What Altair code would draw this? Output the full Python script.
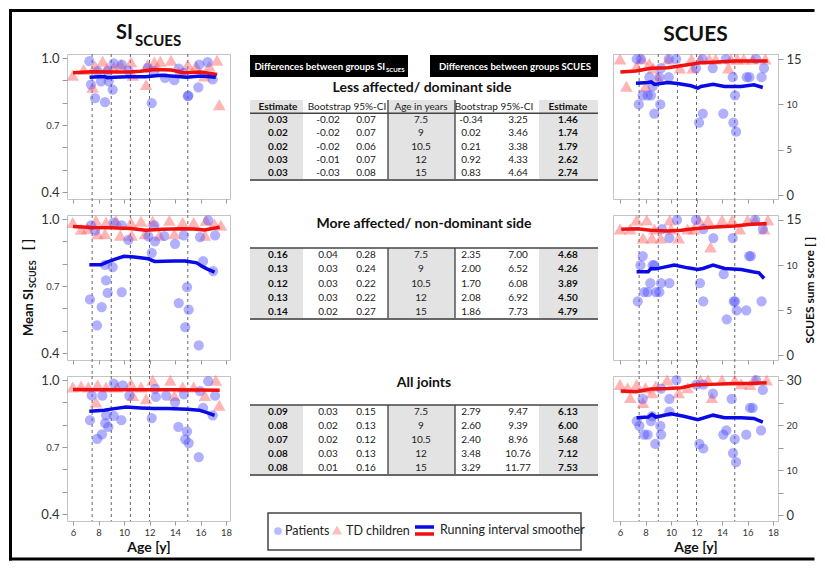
import altair as alt
import pandas as pd

# ---------------- data ----------------
cut_ages = [7.5, 9, 10.5, 12, 15]

# Less affected / dominant side : SI_SCUES
tl_pat_age = [7.28, 7.41, 7.73, 7.94, 8.2, 8.51, 8.72, 8.8, 9.11, 9.19, 9.82, 10.34, 11.86, 12.17, 12.38,
              13.22, 13.95, 14.29, 14.68, 15.0, 15.05, 15.83, 15.91, 16.56, 16.95]
tl_pat_val = [0.986, 0.881, 0.821, 0.941, 0.896, 0.803, 0.941, 0.896, 0.859, 0.976, 0.971, 0.944, 0.956, 0.798, 0.941,
              0.911, 0.901, 0.952, 0.934, 0.829, 0.832, 0.869, 0.971, 0.982, 0.904]
tl_td_age = [5.98, 6.84, 7.54, 7.73, 8.33, 8.67, 9.2, 9.76, 10.55, 10.7, 11.73, 11.86, 12.38, 12.85, 13.69,
             14.3, 15.0, 15.65, 16.3, 16.69, 17.29, 17.47]
tl_td_val = [0.923, 0.949, 0.869, 0.964, 0.986, 0.956, 0.962, 0.971, 0.982, 0.923, 0.881, 0.971, 0.982, 0.986, 0.99,
             0.935, 0.971, 0.964, 0.919, 0.964, 0.99, 0.791]
tl_red_age = [6.0, 7.4, 9.0, 10.3, 11.3, 12.4, 13.7, 14.7, 16.0, 17.3]
tl_red_val = [0.934, 0.938, 0.937, 0.937, 0.941, 0.949, 0.946, 0.934, 0.937, 0.926]
tl_blue_age = [7.3, 8.45, 8.7, 9.2, 10.3, 11.7, 12.9, 13.95, 14.9, 16.0, 17.2]
tl_blue_val = [0.914, 0.917, 0.912, 0.914, 0.916, 0.916, 0.923, 0.918, 0.914, 0.919, 0.914]

# More affected / non-dominant side : SI_SCUES
ml_pat_age = [7.33, 7.41, 7.73, 7.88, 8.25, 8.51, 8.59, 8.72, 9.11, 9.19, 9.82, 9.82, 10.34, 11.91, 12.17,
              12.38, 12.43, 13.16, 14.0, 14.29, 14.68, 14.8, 14.94, 15.07, 15.86, 15.96, 16.2, 16.6, 16.99, 17.14]
ml_pat_val = [0.64, 0.972, 0.949, 0.524, 0.606, 0.795, 0.725, 0.669, 0.785, 0.984, 0.673, 0.972, 0.907, 0.922, 0.849,
              0.972, 0.9, 0.924, 0.889, 0.624, 0.927, 0.516, 0.695, 0.594, 0.434, 0.919, 0.812, 0.994, 0.767, 0.927]
ml_td_age = [5.98, 6.63, 7.15, 7.8, 7.93, 8.59, 8.51, 9.37, 9.71, 10.55, 10.6, 11.33, 11.65, 12.25, 12.77,
             13.55, 13.95, 14.6, 15.46, 16.35, 16.43, 17.08, 17.6]
ml_td_val = [0.984, 0.954, 0.957, 0.994, 0.934, 0.986, 0.934, 0.994, 0.927, 0.984, 0.927, 0.99, 0.934, 0.99, 0.927,
             0.994, 0.934, 0.984, 0.984, 0.927, 0.994, 0.979, 0.972]
ml_red_age = [6.0, 7.5, 9.0, 10.5, 11.7, 13.0, 14.5, 15.5, 16.3, 17.5]
ml_red_val = [0.966, 0.962, 0.961, 0.958, 0.950, 0.954, 0.957, 0.955, 0.951, 0.963]
ml_blue_age = [7.28, 8.2, 8.67, 9.37, 10.0, 10.8, 11.9, 12.4, 13.9, 14.8, 15.7, 16.1, 16.5, 17.1]
ml_blue_val = [0.795, 0.795, 0.807, 0.822, 0.833, 0.830, 0.822, 0.810, 0.812, 0.812, 0.804, 0.789, 0.777, 0.762]

# All joints : SI_SCUES
bl_pat_age = [7.47, 7.33, 7.9, 8.27, 8.3, 8.53, 8.59, 8.77, 9.19, 9.19, 9.79, 9.9, 10.42, 12.17, 12.43,
              12.5, 13.3, 14.0, 14.26, 14.7, 14.8, 14.94, 15.07, 15.86, 15.96, 16.2, 16.6, 16.95, 17.14]
bl_pat_val = [0.931, 0.82, 0.737, 0.757, 0.93, 0.807, 0.842, 0.79, 0.984, 0.84, 0.82, 0.976, 0.93, 0.83, 0.96,
              0.924, 0.93, 0.90, 0.79, 0.936, 0.734, 0.77, 0.718, 0.655, 0.95, 0.875, 0.995, 0.842, 0.93]
bl_td_age = [5.98, 6.63, 7.2, 7.8, 7.93, 8.59, 9.45, 10.55, 10.7, 11.33, 11.73, 12.25, 13.63, 13.95, 14.6,
             15.46, 16.35, 17.2, 17.47]
bl_td_val = [0.969, 0.973, 0.969, 0.902, 0.979, 0.969, 0.969, 0.984, 0.931, 0.969, 0.916, 0.999, 0.999, 0.931, 0.969,
             0.969, 0.931, 0.999, 0.887]
bl_red_age = [6.0, 8.0, 10.0, 12.0, 14.0, 16.0, 17.5]
bl_red_val = [0.958, 0.957, 0.957, 0.956, 0.957, 0.955, 0.954]
bl_blue_age = [7.28, 8.45, 9.24, 10.16, 11.3, 12.35, 13.4, 14.96, 15.9, 16.5, 17.1]
bl_blue_val = [0.860, 0.865, 0.872, 0.879, 0.875, 0.872, 0.872, 0.869, 0.865, 0.854, 0.842]

# Less affected / dominant side : SCUES
tr_pat_age = [7.31, 7.47, 7.65, 7.78, 8.17, 8.3, 8.43, 8.56, 8.69, 9.08, 9.16, 9.22, 9.82, 9.82, 10.4,
              11.96, 12.2, 12.49, 12.47, 13.27, 14.1, 14.3, 14.84, 14.89, 15.1, 15.02, 15.94, 16.15, 16.67, 17.1, 17.29]
tr_pat_val = [15, 10, 15, 11, 11, 13, 11, 12, 9, 13, 10, 14, 13, 15, 15,
              14, 8, 9, 15, 14, 9, 15, 13, 8, 7, 11, 13, 13, 15, 13, 14]
tr_td_age = [6.0, 6.5, 7.3, 7.7, 8.0, 8.3, 8.6, 9.0, 9.8, 10.7, 11.6, 11.7, 12.3, 13.0, 13.5,
             14.5, 14.7, 15.2, 15.7, 16.4, 17.4]
tr_td_val = [15, 12, 14.2, 15, 12, 14.5, 14, 13, 15, 14, 15, 14, 15, 15, 15,
             14, 15, 15, 15, 15, 15]
tr_red_age = [6.03, 7.25, 8.43, 9.74, 10.52, 11.57, 12.35, 13.66, 14.97, 16.27, 17.58]
tr_red_val = [13.58, 13.69, 13.99, 14.05, 14.2, 14.42, 14.6, 14.68, 14.79, 14.79, 14.79]
tr_blue_age = [7.25, 8.2, 8.45, 8.7, 9.74, 10.52, 11.57, 12.1, 12.35, 13.3, 14.2, 15.5, 16.5, 17.2]
tr_blue_val = [12.34, 12.41, 12.48, 12.2, 12.41, 12.30, 12.05, 11.79, 11.97, 12.23, 11.97, 11.97, 12.16, 11.87]

# More affected / non-dominant side : SCUES
mr_pat_age = [7.39, 7.6, 7.78, 7.9, 8.17, 8.38, 8.56, 8.69, 8.82, 9.08, 9.22, 9.29, 9.87, 9.87, 10.47,
              11.96, 12.27, 12.53, 12.53, 13.32, 14.13, 14.37, 14.84, 14.92, 15.02, 15.15, 15.9, 16.13, 16.26,
              16.6, 17.1, 17.2]
mr_pat_val = [6, 10, 11, 7, 7, 8, 10, 10, 7, 7, 8, 14, 8, 13, 15,
              15, 8, 6, 14, 13, 9, 4, 13, 6, 6, 5, 5, 11, 11,
              15, 6, 14]
mr_td_age = [6.0, 6.8, 7.3, 7.8, 8.1, 8.5, 8.7, 9.2, 9.9, 10.0, 10.6, 11.3, 11.8, 12.2, 12.9,
             13.1, 14.0, 14.8, 15.4, 16.0, 16.6, 17.3, 17.6]
mr_td_val = [14, 14, 15, 13, 15, 13, 14, 13, 15, 14, 13, 14, 14, 15, 15,
             12, 15, 15, 14, 15, 15, 14, 15]
mr_red_age = [6.1, 7.35, 8.4, 9.74, 10.8, 11.8, 13.1, 15.0, 16.3, 17.5]
mr_red_val = [13.96, 14.03, 13.85, 13.78, 13.85, 14.03, 14.2, 14.33, 14.52, 14.59]
mr_blue_age = [7.3, 8.2, 8.43, 8.82, 10.26, 11.3, 12.1, 12.5, 13.3, 14.2, 15.5, 16.4, 16.9, 17.3]
mr_blue_val = [9.26, 9.26, 9.63, 9.59, 10.0, 9.70, 9.52, 9.63, 10.0, 9.63, 9.52, 9.26, 9.15, 8.52]

# All joints : SCUES
br_pat_age = [7.31, 7.52, 7.78, 7.9, 8.17, 8.43, 8.51, 8.77, 9.16, 9.22, 9.22, 9.87, 9.87, 10.42, 11.98,
              12.22, 12.53, 12.53, 13.29, 14.1, 14.34, 14.76, 14.86, 15.0, 15.1, 15.9, 16.2, 16.4, 16.67, 17.06, 17.2]
br_pat_val = [20.9, 19.8, 25.8, 17.9, 17.9, 20.9, 22.0, 15.8, 19.8, 17.9, 28.1, 25.8, 23.0, 30.0, 29.0,
              15.8, 14.8, 29.0, 27.0, 17.9, 18.8, 25.8, 13.8, 16.9, 11.8, 17.9, 23.8, 23.8, 30.0, 18.8, 27.8]
br_td_age = [6.0, 6.6, 6.8, 7.3, 7.8, 8.0, 8.5, 8.8, 9.7, 10.6, 11.3, 12.3, 12.9, 13.2, 14.0,
             15.0, 15.5, 16.2, 16.6, 17.5]
br_td_val = [29.0, 28.3, 26.1, 29.0, 25.0, 28.3, 27.2, 28.7, 30.0, 27.2, 28.3, 30.0, 30.0, 26.1, 30.0,
             30.0, 29.2, 29.0, 30.0, 30.0]
br_red_age = [6.05, 7.25, 8.43, 9.74, 10.8, 11.8, 13.1, 15.0, 16.3, 17.5]
br_red_val = [27.56, 27.41, 28.0, 28.1, 28.3, 28.9, 29.04, 29.26, 29.26, 29.4]
br_blue_age = [7.3, 8.2, 8.5, 8.82, 10.0, 11.0, 12.1, 13.3, 14.2, 15.5, 16.5, 17.2]
br_blue_val = [21.63, 21.78, 22.37, 21.78, 22.5, 21.96, 21.2, 22.2, 21.63, 21.63, 21.48, 20.67]

# tables: differences between groups
table_ages = ["7.5", "9", "10.5", "12", "15"]
less_si_est = [0.03, 0.02, 0.02, 0.03, 0.03]
less_si_lo = [-0.02, -0.02, -0.02, -0.01, -0.03]
less_si_hi = [0.07, 0.07, 0.06, 0.07, 0.08]
less_sc_lo = [-0.34, 0.02, 0.21, 0.92, 0.83]
less_sc_hi = [3.25, 3.46, 3.38, 4.33, 4.64]
less_sc_est = [1.46, 1.74, 1.79, 2.62, 2.74]

more_si_est = [0.16, 0.13, 0.12, 0.13, 0.14]
more_si_lo = [0.04, 0.03, 0.03, 0.03, 0.02]
more_si_hi = [0.28, 0.24, 0.22, 0.22, 0.27]
more_sc_lo = [2.35, 2.00, 1.70, 2.08, 1.86]
more_sc_hi = [7.00, 6.52, 6.08, 6.92, 7.73]
more_sc_est = [4.68, 4.26, 3.89, 4.50, 4.79]

all_si_est = [0.09, 0.08, 0.07, 0.08, 0.08]
all_si_lo = [0.03, 0.02, 0.02, 0.03, 0.01]
all_si_hi = [0.15, 0.13, 0.12, 0.13, 0.16]
all_sc_lo = [2.79, 2.60, 2.40, 3.48, 3.29]
all_sc_hi = [9.47, 9.39, 8.96, 10.76, 11.77]
all_sc_est = [6.13, 6.00, 5.68, 7.12, 7.53]

# texts
left_title = ["SI", "SCUES"]
right_title = "SCUES"
y_left_title = ["Mean SI", "SCUES", "[ ]"]
y_right_title = "SCUES sum score [ ]"
x_title = "Age [y]"
box_texts = ["Differences between groups SI", "SCUES", "Differences between groups SCUES"]
section_titles = ["Less affected/ dominant side", "More affected/ non-dominant side", "All joints"]
header_labels = ["Estimate", "Bootstrap 95%-CI", "Age  in years", "Bootstrap 95%-CI", "Estimate"]
legend_labels = ["Patients", "TD children", "Running interval smoother"]

# ---------------- styles ----------------
PAT_COLOR = "#4f4fff"
TD_COLOR = "#ff5c5c"
RED = "#f01010"
BLUE = "#0a0ae6"
LW, RW, PH, GAP = 163, 165, 145, 16
CW = 343
TABLE_W = 348
NOVIEW = alt.ViewBackground(strokeWidth=0)
# column index -> pixel layout of the tables (piecewise linear, column edges at half steps)
COL_STEPS = [-0.5, 0, 0.5, 1, 1.5, 2, 2.5, 3, 3.5, 4, 4.5, 5, 5.5, 6, 6.5]
COL_PIXELS = [0, 28, 53, 78, 97, 116, 138, 171, 205, 221, 244, 268, 289, 318, 348]


def txt(text, x, y, size, weight="normal", angle=0, align="center", baseline="middle", color="#111"):
    props = dict(fontSize=size, fontWeight=weight, align=align, baseline=baseline, color=color)
    if angle:
        props["angle"] = angle
    return alt.Chart(pd.DataFrame({"t": [text]})).mark_text(**props).encode(
        x=alt.value(x), y=alt.value(y), text="t:N")


def xaxis(bottom):
    common = dict(values=[6, 8, 10, 12, 14, 16, 18], tickColor="#999", tickSize=4, domain=False,
                  grid=False, labelFlush=False, labelOverlap=False)
    if bottom:
        return alt.Axis(labelFontSize=9.5, labelColor="#333", labelPadding=2, title=x_title,
                        titleFontSize=14, titleFontWeight="bold", titleColor="#111", titlePadding=4, **common)
    return alt.Axis(labels=False, title="", **common)


def yaxis_si():
    return alt.Axis(values=[0.4, 0.5, 0.6, 0.7, 0.8, 0.9, 1.0], format=".1f",
                    labelExpr="(datum.value < 0.45 || (datum.value > 0.65 && datum.value < 0.75) || datum.value > 0.95) ? datum.label : ''",
                    labelFontSize={"condition": {"test": "datum.value > 0.65 && datum.value < 0.75", "value": 9.5}, "value": 13},
                    labelColor="#333", tickColor="#999", tickSize=5, labelPadding=3, domain=False, grid=False,
                    title="", labelOverlap=False, labelFlush=False)


def yaxis_sc(vmax):
    vals = list(range(0, vmax + 1, 5))
    expr = "datum.value % 10 == 0 ? datum.label : ''" if vmax == 30 else "datum.label"
    return alt.Axis(values=vals, orient="right", labelExpr=expr,
                    labelFontSize={"condition": {"test": f"datum.value == 0 || datum.value == {vmax}", "value": 13},
                                   "value": 9.5},
                    labelColor="#333", tickColor="#999", tickSize=5, labelPadding=3, domain=False, grid=False,
                    title="", labelOverlap=False, labelFlush=False)


def panel(pa, pv, ta, tv, ra, rv, ba, bv, xdom, ydom, yax, xax, rule_len, width, extras=()):
    xs = alt.Scale(domain=xdom, nice=False, zero=False)
    ys = alt.Scale(domain=ydom, nice=False, zero=False)
    X = alt.X("age:Q", scale=xs, axis=xax)
    Y = alt.Y("val:Q", scale=ys, axis=yax)
    cuts = alt.Chart(pd.DataFrame({"age": cut_ages})).mark_rule(
        color="#666", strokeDash=[3, 3], strokeWidth=1).encode(x=X, y=alt.value(0), y2=alt.value(rule_len))
    tri = alt.Chart(pd.DataFrame({"age": ta, "val": tv})).mark_point(
        shape="triangle-up", filled=True, size=160, color=TD_COLOR, opacity=0.45).encode(x=X, y=Y)
    cir = alt.Chart(pd.DataFrame({"age": pa, "val": pv})).mark_circle(
        size=105, color=PAT_COLOR, opacity=0.45).encode(x=X, y=Y)
    red = alt.Chart(pd.DataFrame({"age": ra, "val": rv})).mark_line(
        color=RED, strokeWidth=3.5).encode(x=X, y=Y)
    blue = alt.Chart(pd.DataFrame({"age": ba, "val": bv})).mark_line(
        color=BLUE, strokeWidth=3.5).encode(x=X, y=Y)
    return alt.layer(cuts, tri, cir, red, blue, *extras).properties(
        width=width, height=PH, view=alt.ViewBackground(stroke="#c4c4c4", strokeWidth=1))


def table_layers(si_est, si_lo, si_hi, sc_lo, sc_hi, sc_est, y0, h, with_header):
    rows = ["r1", "r2", "r3", "r4", "r5"]
    ydom = (["hdr"] if with_header else []) + rows
    norm, bold, span = [], [], []
    for i, r in enumerate(rows):
        bold.append({"row": r, "ci": 0, "t": f"{si_est[i]:.2f}"})
        norm.append({"row": r, "ci": 1, "t": f"{si_lo[i]:.2f}"})
        norm.append({"row": r, "ci": 2, "t": f"{si_hi[i]:.2f}"})
        norm.append({"row": r, "ci": 3, "t": table_ages[i]})
        norm.append({"row": r, "ci": 4, "t": f"{sc_lo[i]:.2f}"})
        norm.append({"row": r, "ci": 5, "t": f"{sc_hi[i]:.2f}"})
        bold.append({"row": r, "ci": 6, "t": f"{sc_est[i]:.2f}"})
    if with_header:
        bold.append({"row": "hdr", "ci": 0, "t": header_labels[0]})
        norm.append({"row": "hdr", "ci": 3, "t": header_labels[2]})
        bold.append({"row": "hdr", "ci": 6, "t": header_labels[4]})
        span.append({"row": "hdr", "ci": 1, "t": header_labels[1]})
        span.append({"row": "hdr", "ci": 4, "t": header_labels[3]})
    xs = alt.Scale(type="linear", domain=COL_STEPS, range=COL_PIXELS, zero=False, nice=False)
    ys = alt.Scale(type="band", domain=ydom, range=[y0, y0 + h], paddingInner=0, paddingOuter=0)

    def X(field):
        return alt.X(field, type="quantitative", scale=xs, axis=None)

    def Y(bp):
        return alt.Y("row:N", scale=ys, axis=None, bandPosition=bp)

    layers = [
        alt.Chart(pd.DataFrame({"ci": [0, 3, 6]})).transform_calculate(
            lo="datum.ci - 0.5", hi="datum.ci + 0.5").mark_rect(color="#e3e3e3").encode(
            x=X("lo"), x2="hi:Q", y=alt.value(y0), y2=alt.value(y0 + h)),
        alt.Chart(pd.DataFrame({"ci": [3, 4]})).transform_calculate(
            edge="datum.ci - 0.5").mark_rule(color="#555", strokeWidth=1.5).encode(
            x=X("edge"), y=alt.value(y0), y2=alt.value(y0 + h)),
        alt.Chart(pd.DataFrame({"row": ["r1"]})).mark_rule(color="#444", strokeWidth=1.5).encode(
            y=Y(0), x=alt.value(0), x2=alt.value(TABLE_W)),
        alt.Chart(pd.DataFrame({"row": ["r5"]})).mark_rule(color="#666", strokeWidth=2.2).encode(
            y=Y(1), x=alt.value(0), x2=alt.value(TABLE_W)),
        alt.Chart(pd.DataFrame(norm)).mark_text(fontSize=10, color="#222").encode(
            x=X("ci"), y=Y(0.5), text="t:N"),
        alt.Chart(pd.DataFrame(bold)).mark_text(fontSize=10, fontWeight="bold", color="#111").encode(
            x=X("ci"), y=Y(0.5), text="t:N"),
    ]
    if span:
        layers.append(alt.Chart(pd.DataFrame(span)).transform_calculate(
            mid="datum.ci + 0.5").mark_text(fontSize=10, color="#222").encode(
            x=X("mid"), y=Y(0.5), text="t:N"))
    return layers


def hline(x1, x2, y, w=3, color="black"):
    return alt.Chart(pd.DataFrame({"k": [0]})).mark_rule(color=color, strokeWidth=w, strokeCap="square").encode(
        x=alt.value(x1), x2=alt.value(x2), y=alt.value(y))


def vline(x, y1, y2, w=3):
    return alt.Chart(pd.DataFrame({"k": [0]})).mark_rule(color="black", strokeWidth=w, strokeCap="square").encode(
        x=alt.value(x), y=alt.value(y1), y2=alt.value(y2))


def box(x1, x2, y1, y2, **kw):
    return alt.Chart(pd.DataFrame({"k": [0]})).mark_rect(**kw).encode(
        x=alt.value(x1), x2=alt.value(x2), y=alt.value(y1), y2=alt.value(y2))


# ---------------- left column (SI_SCUES) ----------------
xdom_l = [5.53, 18.31]
ydom_l = [0.369, 1.018]
tl = panel(tl_pat_age, tl_pat_val, tl_td_age, tl_td_val, tl_red_age, tl_red_val, tl_blue_age, tl_blue_val,
           xdom_l, ydom_l, yaxis_si(), xaxis(False), PH + GAP, LW,
           extras=[txt(left_title[0], 66, -15, 20, "bold", align="right", baseline="alphabetic"),
                   txt(left_title[1], 68, -8, 15, "bold", align="left", baseline="alphabetic")])
ml = panel(ml_pat_age, ml_pat_val, ml_td_age, ml_td_val, ml_red_age, ml_red_val, ml_blue_age, ml_blue_val,
           xdom_l, ydom_l, yaxis_si(), xaxis(False), PH + GAP, LW,
           extras=[txt(y_left_title[0], -34, 74, 13, "bold", angle=270, align="right", baseline="alphabetic"),
                   txt(y_left_title[1], -31, 73, 9, "bold", angle=270, align="left", baseline="alphabetic"),
                   txt(y_left_title[2], -34, 24, 13, "bold", angle=270, align="right", baseline="alphabetic")])
bl = panel(bl_pat_age, bl_pat_val, bl_td_age, bl_td_val, bl_red_age, bl_red_val, bl_blue_age, bl_blue_val,
           xdom_l, ydom_l, yaxis_si(), xaxis(True), PH, LW)

# ---------------- right column (SCUES) ----------------
xdom_r = [5.45, 18.39]
tr = panel(tr_pat_age, tr_pat_val, tr_td_age, tr_td_val, tr_red_age, tr_red_val, tr_blue_age, tr_blue_val,
           xdom_r, [-0.4, 15.55], yaxis_sc(15), xaxis(False), PH + GAP, RW,
           extras=[txt(right_title, 82.5, -13, 21, "bold", baseline="alphabetic")])
mr = panel(mr_pat_age, mr_pat_val, mr_td_age, mr_td_val, mr_red_age, mr_red_val, mr_blue_age, mr_blue_val,
           xdom_r, [-0.5, 15.55], yaxis_sc(15), xaxis(False), PH + GAP, RW,
           extras=[txt(y_right_title, 201, 75, 12, "bold", angle=270, baseline="alphabetic")])
br = panel(br_pat_age, br_pat_val, br_td_age, br_td_val, br_red_age, br_red_val, br_blue_age, br_blue_val,
           xdom_r, [-1.3, 30.9], yaxis_sc(30), xaxis(True), PH, RW)

# ---------------- centre column (tables) ----------------
c1 = alt.layer(
    hline(-239.5, 563, -43.5), vline(-239.5, -43.5, 505), hline(-239.5, 563, 505),
    box(0, 158, 1, 23, color="black"), box(180, 348, 1, 23, color="black"),
    txt(box_texts[0], 135, 12.5, 9.6, "bold", align="right", color="white"),
    txt(box_texts[1], 136, 15.5, 6, "bold", align="left", color="white"),
    txt(box_texts[2], 265, 12.5, 9.6, "bold", color="white"),
    txt(section_titles[0], 172, 34, 14, "bold"),
    *table_layers(less_si_est, less_si_lo, less_si_hi, less_sc_lo, less_sc_hi, less_sc_est, 46, 80, True),
).properties(width=CW, height=PH, view=NOVIEW)

c2 = alt.layer(
    txt(section_titles[1], 174, 9, 14, "bold"),
    *table_layers(more_si_est, more_si_lo, more_si_hi, more_sc_lo, more_sc_hi, more_sc_est, 33, 71, False),
).properties(width=CW, height=PH, view=NOVIEW)

leg_pt = alt.Chart(pd.DataFrame({"k": [0]}))
c3 = alt.layer(
    txt(section_titles[2], 174, 7, 14, "bold"),
    *table_layers(all_si_est, all_si_lo, all_si_hi, all_sc_lo, all_sc_hi, all_sc_est, 29, 70, False),
    box(18, 331, 137, 174, fill="white", stroke="#444", strokeWidth=1.5),
    leg_pt.mark_circle(size=60, color=PAT_COLOR, opacity=0.4).encode(x=alt.value(28), y=alt.value(155)),
    txt(legend_labels[0], 35, 155, 12.5, align="left", color="#222"),
    leg_pt.mark_point(shape="triangle-up", filled=True, size=110, color=TD_COLOR, opacity=0.4).encode(
        x=alt.value(87), y=alt.value(154)),
    txt(legend_labels[1], 96, 155, 12.5, align="left", color="#222"),
    leg_pt.mark_rule(color=BLUE, strokeWidth=3.5).encode(x=alt.value(165), x2=alt.value(184), y=alt.value(151)),
    leg_pt.mark_rule(color=RED, strokeWidth=3.5).encode(x=alt.value(165), x2=alt.value(184), y=alt.value(158)),
    txt(legend_labels[2], 190, 154, 12.5, align="left", color="#222"),
).properties(width=CW, height=PH, view=NOVIEW)

chart = alt.concat(
    tl, c1, tr,
    ml, c2, mr,
    bl, c3, br,
    columns=3, spacing={"row": GAP, "column": 20}, bounds="flush", align="each",
).properties(padding=0, background="white").configure(font="Lato").configure_view(strokeWidth=0)

chart.save("out.html", embed_options={"renderer": "svg", "actions": False})
